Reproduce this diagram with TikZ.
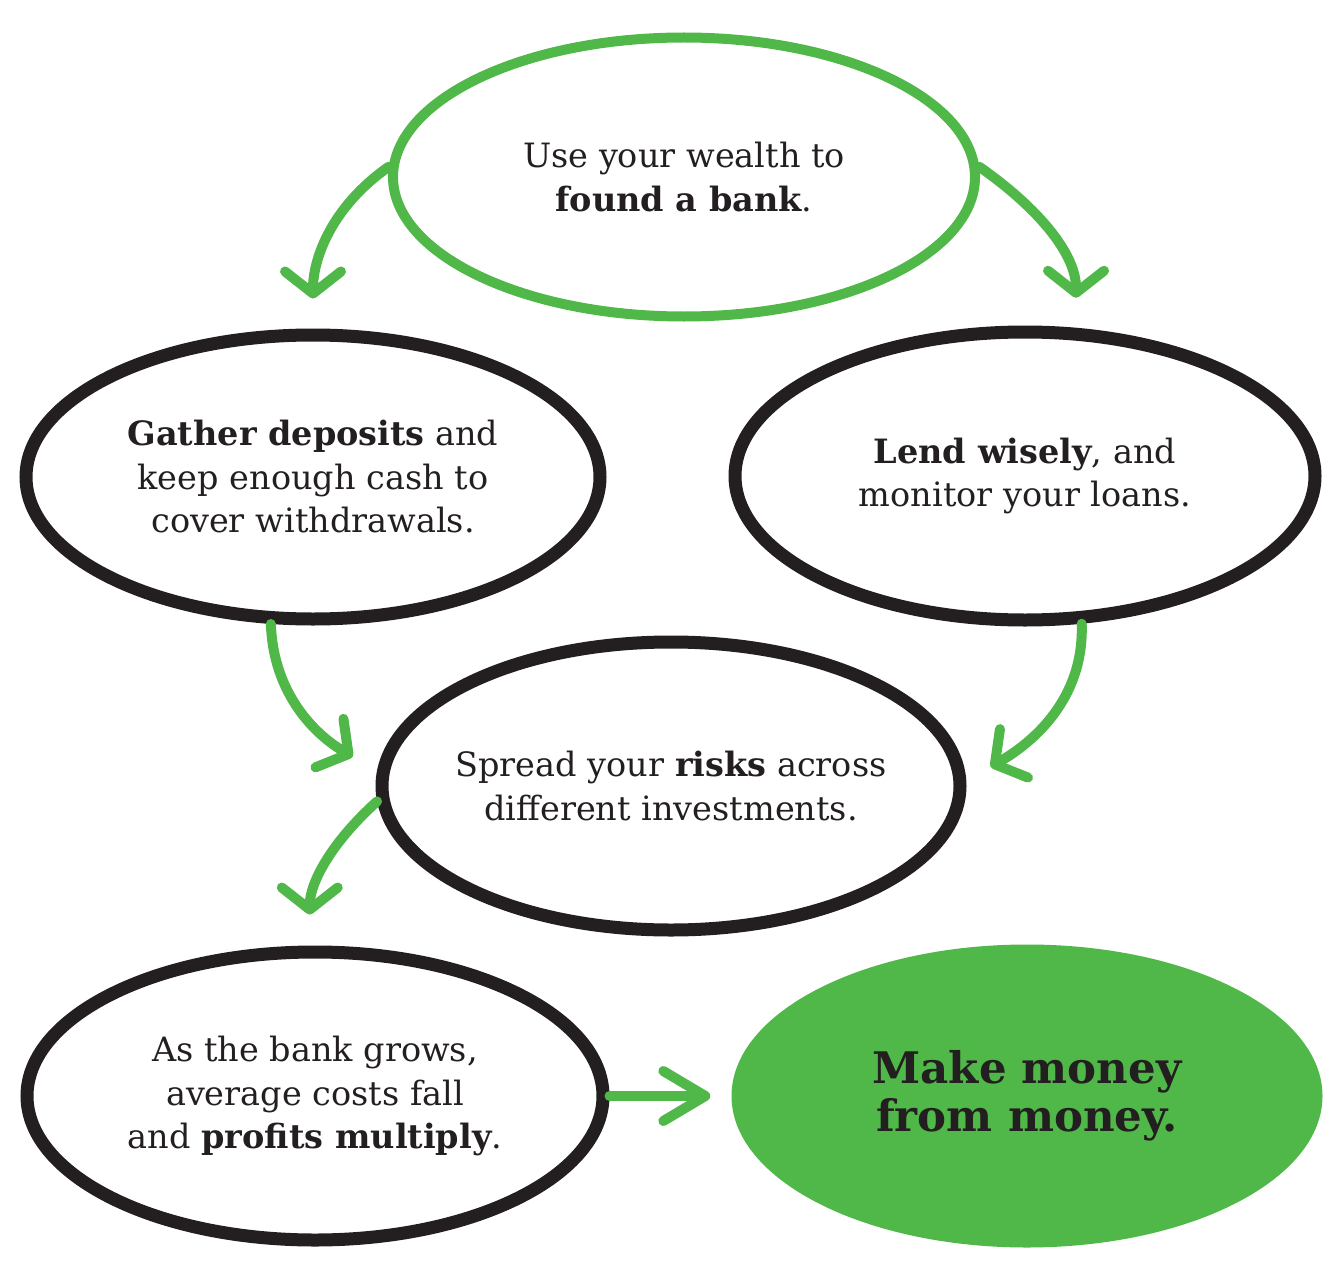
\documentclass[tikz,border=0pt]{standalone}
\usepackage{fontspec}
\setmainfont{DejaVu Serif}
\usetikzlibrary{arrows.meta,shapes.geometric}
\definecolor{grn}{HTML}{50B848}
\definecolor{ink}{HTML}{231F20}
\begin{document}
\begin{tikzpicture}[x=1pt,y=1pt,
  bubble/.style={ellipse, draw=ink, line width=13pt, inner xsep=-40pt, inner ysep=0pt,
    align=center, text=ink, font=\fontsize{33.5}{43.5}\selectfont},
  topbubble/.style={bubble, draw=grn, line width=10pt},
  goal/.style={ellipse, fill=grn, draw=none, inner sep=0pt, align=center,
    text=ink, font=\fontsize{43.5}{48}\selectfont\bfseries},
  flow/.style={draw=grn, line width=10pt, line cap=round,
    -{Straight Barb[round, length=22pt, width=56pt]}},
  bigflow/.style={draw=grn, line width=10pt, line cap=round,
    -{Straight Barb[round, length=42pt, width=50pt]}},
]
\useasboundingbox (0,0) rectangle (1339,-1279);

\node[topbubble, minimum width=582pt, minimum height=279pt] (top) at (684,-177)
  {Use your wealth to\\\textbf{found a bank}.};
\node[bubble, minimum width=574pt, minimum height=284pt] (gather) at (313,-477)
  {\textbf{Gather deposits} and\\keep enough cash to\\cover withdrawals.};
\node[bubble, minimum width=580pt, minimum height=288pt] (lend) at (1025,-476)
  {\textbf{Lend wisely}, and\\monitor your loans.};
\node[bubble, minimum width=578pt, minimum height=288pt] (spread) at (671,-786)
  {Spread your \textbf{risks} across\\different investments.};
\node[bubble, minimum width=576pt, minimum height=288pt] (grow) at (315,-1096)
  {As the bank grows,\\average costs fall\\and \textbf{profits multiply}.};
\node[goal, minimum width=591pt, minimum height=303pt] (goal) at (1027,-1096)
  {Make money\\from money.};

\draw[flow, shorten >=30pt] (top.178) to[out=215, in=90] (gather.north);
\draw[flow, shorten >=30pt] (top.2) to[out=-35, in=90] (lend.71);
\draw[flow, shorten >=28pt] (gather.-106) to[out=-88, in=150] (spread.177);
\draw[flow, shorten >=28pt] (lend.-69) to[out=-88, in=30] (spread.1);
\draw[flow, shorten >=31pt] (spread.183) to[out=222, in=90] (grow.92);
\draw[bigflow, shorten >=21pt] (grow.east) -- (goal.west);
\end{tikzpicture}
\end{document}
